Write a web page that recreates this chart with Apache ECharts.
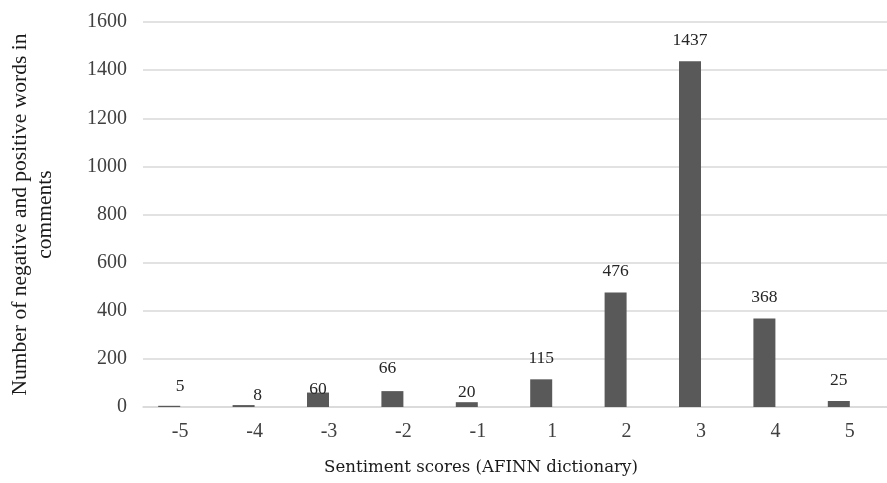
<!DOCTYPE html>
<html>
<head>
<meta charset="utf-8">
<script src="https://cdn.jsdelivr.net/npm/echarts@6/dist/echarts.min.js"></script>
<style>
html,body{margin:0;padding:0;background:#fff;}
#chart{width:887px;height:483px;}
</style>
</head>
<body>
<div id="chart"></div>
<script>
// ---- data ----
const categories = ['-5', '-4', '-3', '-2', '-1', '1', '2', '3', '4', '5'];
const wordCounts = [5, 8, 60, 66, 20, 115, 476, 1437, 368, 25];
const yTicks = [0, 200, 400, 600, 800, 1000, 1200, 1400, 1600];
const xTitle = 'Sentiment scores (AFINN dictionary)';
const yTitle = 'Number of negative and positive words in\ncomments';

// label nudges (style only, in px) reproducing the manually placed labels
const labelNudges = [[11, 2], [14, 11], [0, 18], [-5, -2], [0, 11], [0, 0], [0, 0], [0, 0], [0, 0], [0, 0]];

const chart = echarts.init(document.getElementById('chart'));
const serif = '"Liberation Serif", "Times New Roman", serif';

chart.setOption({
  animation: false,
  backgroundColor: '#ffffff',
  grid: { left: 142, top: 22, width: 756, height: 385, containLabel: false },
  xAxis: {
    type: 'category',
    data: categories,
    name: xTitle,
    nameLocation: 'middle',
    nameGap: 52,
    nameTextStyle: { fontFamily: '"DejaVu Serif", serif', fontSize: 16.6, color: '#1a1a1a', padding: [0, 68, 0, 0] },
    axisLine: { lineStyle: { color: '#d9d9d9', width: 1.5 } },
    axisTick: { show: false },
    axisLabel: { fontFamily: serif, fontSize: 20, color: '#404040', margin: 15 }
  },
  yAxis: {
    type: 'value',
    min: yTicks[0],
    max: yTicks[yTicks.length - 1],
    interval: yTicks[1] - yTicks[0],
    name: yTitle,
    nameLocation: 'middle',
    nameRotate: 90,
    nameGap: 85,
    nameTextStyle: { fontFamily: serif, fontSize: 21.5, color: '#1a1a1a', lineHeight: 25, align: 'center' },
    axisLine: { show: false },
    axisTick: { show: false },
    axisLabel: { fontFamily: serif, fontSize: 20, color: '#404040', margin: 16, formatter: (v) => String(v) },
    splitLine: { lineStyle: { color: '#d9d9d9', width: 1.5 } }
  },
  series: [
    {
      type: 'bar',
      barWidth: 22,
      barGap: '0%',
      itemStyle: { color: '#595959' },
      data: wordCounts.map((v, i) => ({
        value: v,
        label: { offset: labelNudges[i] }
      })),
      label: {
        show: true,
        position: 'top',
        distance: 12,
        fontFamily: serif,
        fontSize: 17.5,
        color: '#262626'
      }
    },
    {
      type: 'bar',
      barWidth: 22,
      barGap: '0%',
      itemStyle: { color: 'transparent' },
      data: categories.map(() => null),
      silent: true
    }
  ]
});
</script>
</body>
</html>
